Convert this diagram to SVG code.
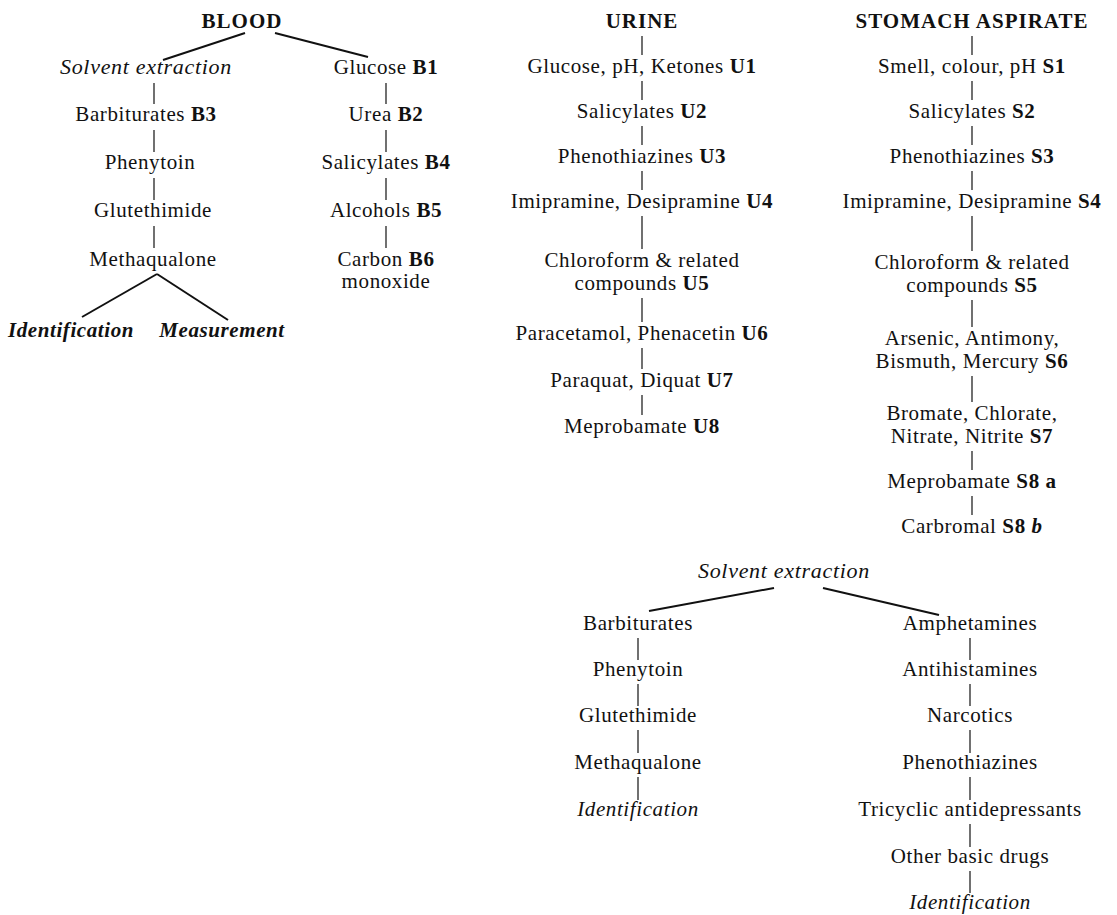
<svg xmlns="http://www.w3.org/2000/svg" width="1117" height="915" viewBox="0 0 1117 915">
<style>
text{font-family:"Liberation Serif","Times New Roman",serif;font-size:21px;fill:#111;text-anchor:middle;letter-spacing:0.6px}
.b{font-weight:bold}
.i{font-style:italic}
.se{font-style:italic;font-size:22px;letter-spacing:0.7px}
.bi{font-style:italic;font-weight:bold}
.h{font-weight:bold;font-size:21px;letter-spacing:1px}
#connectors line{stroke:#111;stroke-width:1.2;fill:none}
#connectors .d{stroke-width:2}
</style>
<rect width="1117" height="915" fill="#fff"/>
<g id="connectors">
<line class="d" x1="245" y1="33" x2="163" y2="60"/>
<line class="d" x1="275" y1="33" x2="368" y2="57"/>
<line x1="154" y1="83" x2="154" y2="104"/>
<line x1="154" y1="130" x2="154" y2="152"/>
<line x1="154" y1="178" x2="154" y2="200"/>
<line x1="154" y1="226" x2="154" y2="248"/>
<line class="d" x1="157" y1="274" x2="82" y2="317"/>
<line class="d" x1="157" y1="274" x2="228" y2="320"/>
<line x1="386" y1="83" x2="386" y2="104"/>
<line x1="386" y1="130" x2="386" y2="152"/>
<line x1="386" y1="178" x2="386" y2="200"/>
<line x1="386" y1="226" x2="386" y2="248"/>
<line x1="642" y1="36" x2="642" y2="55"/>
<line x1="642" y1="81" x2="642" y2="100"/>
<line x1="642" y1="126" x2="642" y2="145"/>
<line x1="642" y1="171" x2="642" y2="190"/>
<line x1="642" y1="216" x2="642" y2="249"/>
<line x1="642" y1="298" x2="642" y2="322"/>
<line x1="642" y1="348" x2="642" y2="369"/>
<line x1="642" y1="395" x2="642" y2="415"/>
<line x1="972" y1="36" x2="972" y2="55"/>
<line x1="972" y1="81" x2="972" y2="100"/>
<line x1="972" y1="126" x2="972" y2="145"/>
<line x1="972" y1="171" x2="972" y2="190"/>
<line x1="972" y1="216" x2="972" y2="251"/>
<line x1="972" y1="300" x2="972" y2="327"/>
<line x1="972" y1="376" x2="972" y2="402"/>
<line x1="972" y1="451" x2="972" y2="470"/>
<line x1="972" y1="496" x2="972" y2="515"/>
<line class="d" x1="774" y1="588" x2="649" y2="611"/>
<line class="d" x1="823" y1="588" x2="939" y2="615"/>
<line x1="638" y1="638" x2="638" y2="660"/>
<line x1="638" y1="684" x2="638" y2="706"/>
<line x1="638" y1="730" x2="638" y2="753"/>
<line x1="638" y1="777" x2="638" y2="800"/>
<line x1="970" y1="638" x2="970" y2="660"/>
<line x1="970" y1="684" x2="970" y2="706"/>
<line x1="970" y1="730" x2="970" y2="753"/>
<line x1="970" y1="777" x2="970" y2="800"/>
<line x1="970" y1="824" x2="970" y2="847"/>
<line x1="970" y1="871" x2="970" y2="893"/>
</g>
<g id="blood"><text class="h" x="242" y="28">BLOOD</text></g>
<g id="b-solvent"><text class="se" x="146" y="74">Solvent extraction</text></g>
<g id="b3"><text x="146" y="121">Barbiturates <tspan class="b">B3</tspan></text></g>
<g id="b-phenytoin"><text x="150" y="169">Phenytoin</text></g>
<g id="b-glutethimide"><text x="153" y="217">Glutethimide</text></g>
<g id="b-methaqualone"><text x="153" y="266">Methaqualone</text></g>
<g id="b-identification"><text class="bi" x="71" y="337">Identification</text></g>
<g id="b-measurement"><text class="bi" x="222" y="337">Measurement</text></g>
<g id="b1"><text x="386" y="74">Glucose <tspan class="b">B1</tspan></text></g>
<g id="b2"><text x="386" y="121">Urea <tspan class="b">B2</tspan></text></g>
<g id="b4"><text x="386" y="169">Salicylates <tspan class="b">B4</tspan></text></g>
<g id="b5"><text x="386" y="217">Alcohols <tspan class="b">B5</tspan></text></g>
<g id="b6"><text x="386" y="266">Carbon <tspan class="b">B6</tspan></text><text x="386" y="288">monoxide</text></g>
<g id="urine"><text class="h" x="642" y="28">URINE</text></g>
<g id="u1"><text x="642" y="73">Glucose, pH, Ketones <tspan class="b">U1</tspan></text></g>
<g id="u2"><text x="642" y="118">Salicylates <tspan class="b">U2</tspan></text></g>
<g id="u3"><text x="642" y="163">Phenothiazines <tspan class="b">U3</tspan></text></g>
<g id="u4"><text x="642" y="208">Imipramine, Desipramine <tspan class="b">U4</tspan></text></g>
<g id="u5"><text x="642" y="267">Chloroform &amp; related</text><text x="642" y="290">compounds <tspan class="b">U5</tspan></text></g>
<g id="u6"><text x="642" y="340">Paracetamol, Phenacetin <tspan class="b">U6</tspan></text></g>
<g id="u7"><text x="642" y="387">Paraquat, Diquat <tspan class="b">U7</tspan></text></g>
<g id="u8"><text x="642" y="433">Meprobamate <tspan class="b">U8</tspan></text></g>
<g id="stomach"><text class="h" x="972" y="28">STOMACH ASPIRATE</text></g>
<g id="s1"><text x="972" y="73">Smell, colour, pH <tspan class="b">S1</tspan></text></g>
<g id="s2"><text x="972" y="118">Salicylates <tspan class="b">S2</tspan></text></g>
<g id="s3"><text x="972" y="163">Phenothiazines <tspan class="b">S3</tspan></text></g>
<g id="s4"><text x="972" y="208">Imipramine, Desipramine <tspan class="b">S4</tspan></text></g>
<g id="s5"><text x="972" y="269">Chloroform &amp; related</text><text x="972" y="292">compounds <tspan class="b">S5</tspan></text></g>
<g id="s6"><text x="972" y="345">Arsenic, Antimony,</text><text x="972" y="368">Bismuth, Mercury <tspan class="b">S6</tspan></text></g>
<g id="s7"><text x="972" y="420">Bromate, Chlorate,</text><text x="972" y="443">Nitrate, Nitrite <tspan class="b">S7</tspan></text></g>
<g id="s8a"><text x="972" y="488">Meprobamate <tspan class="b">S8 a</tspan></text></g>
<g id="s8b"><text x="972" y="533">Carbromal <tspan class="b">S8 <tspan class="bi">b</tspan></tspan></text></g>
<g id="e-solvent"><text class="se" x="784" y="578">Solvent extraction</text></g>
<g id="e-barbiturates"><text x="638" y="630">Barbiturates</text></g>
<g id="e-phenytoin"><text x="638" y="676">Phenytoin</text></g>
<g id="e-glutethimide"><text x="638" y="722">Glutethimide</text></g>
<g id="e-methaqualone"><text x="638" y="769">Methaqualone</text></g>
<g id="e-identification1"><text class="i" x="638" y="816">Identification</text></g>
<g id="e-amphetamines"><text x="970" y="630">Amphetamines</text></g>
<g id="e-antihistamines"><text x="970" y="676">Antihistamines</text></g>
<g id="e-narcotics"><text x="970" y="722">Narcotics</text></g>
<g id="e-phenothiazines"><text x="970" y="769">Phenothiazines</text></g>
<g id="e-tricyclic"><text x="970" y="816">Tricyclic antidepressants</text></g>
<g id="e-other"><text x="970" y="863">Other basic drugs</text></g>
<g id="e-identification2"><text class="i" x="970" y="909">Identification</text></g>
</svg>
